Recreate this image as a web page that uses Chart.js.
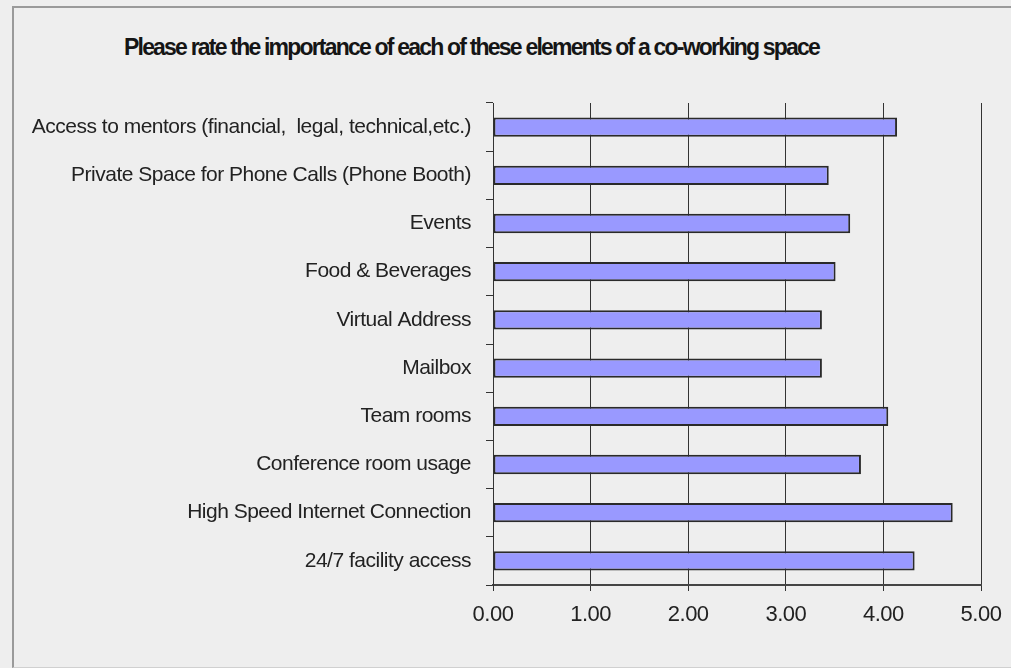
<!DOCTYPE html>
<html>
<head>
<meta charset="utf-8">
<script src="https://cdn.jsdelivr.net/npm/chart.js@4"></script>
<style>
  html, body { margin: 0; padding: 0; background: #eeeeee; }
  #wrap { position: relative; width: 1011px; height: 668px; overflow: hidden; }
  #frame {
    position: absolute; left: 12px; top: 6px; width: 1010px; height: 659px;
    border-left: 2px solid #9a9a9a; border-top: 2px solid #9a9a9a;
    border-bottom: 1px solid #d0d0d0;
  }
  #title {
    position: absolute; left: 124px; top: 34px; white-space: nowrap;
    font: bold 23px "Liberation Sans", Arial, sans-serif; letter-spacing: -1.8px;
    color: #151515;
  }
  canvas { position: absolute; left: 0; top: 0; }
</style>
</head>
<body>
<div id="wrap">
  <div id="frame"></div>
  <div id="title">Please rate the importance of each of these elements of a co-working space</div>
  <canvas id="chart" width="1011" height="668"></canvas>
</div>
<script>
'use strict';

// ===== DATA =====
const categories = [
  'Access to mentors (financial,  legal, technical,etc.)',
  'Private Space for Phone Calls (Phone Booth)',
  'Events',
  'Food & Beverages',
  'Virtual Address',
  'Mailbox',
  'Team rooms',
  'Conference room usage',
  'High Speed Internet Connection',
  '24/7 facility access'
];
const ratings = [4.14, 3.44, 3.66, 3.51, 3.37, 3.37, 4.05, 3.77, 4.71, 4.32];
const xTicks = [0, 1, 2, 3, 4, 5];

const textColor = '#222';
const lineColor = '#333';

// squeeze the axis text a bit, the original font is narrow
const narrowText = {
  id: 'narrowText',
  beforeDraw(chart) { chart.ctx.letterSpacing = '-0.5px'; }
};

new Chart(document.getElementById('chart'), {
  type: 'bar',
  data: {
    labels: categories,
    datasets: [{
      data: ratings,
      backgroundColor: '#9999ff',
      borderColor: '#2a2a2a',
      borderWidth: 2,
      borderSkipped: false,
      barPercentage: 0.4,
      categoryPercentage: 1
    }]
  },
  options: {
    indexAxis: 'y',
    responsive: false,
    animation: false,
    layout: { padding: { top: 103, right: 30, left: 0, bottom: 0 } },
    plugins: {
      legend: { display: false },
      tooltip: { enabled: false }
    },
    scales: {
      x: {
        min: 0,
        max: 5,
        afterBuildTicks: s => { s.ticks = xTicks.map(v => ({ value: v })); },
        afterFit: s => { s.height = 83; s.paddingLeft = 0; s.paddingRight = 0; },
        grid: { color: lineColor, lineWidth: 1, tickLength: 6 },
        border: { color: '#444', width: 2 },
        ticks: {
          color: textColor,
          font: { family: 'Liberation Sans, Arial, sans-serif', size: 22 },
          padding: 11,
          callback: v => Number(v).toFixed(2)
        }
      },
      y: {
        afterFit: s => { s.width = 493; },
        grid: { drawOnChartArea: false, color: lineColor, tickLength: 7, offset: true },
        border: { color: lineColor, width: 1 },
        ticks: {
          color: textColor,
          font: { family: 'Liberation Sans, Arial, sans-serif', size: 21 },
          padding: 15,
          autoSkip: false
        }
      }
    }
  },
  plugins: [narrowText]
});
</script>
</body>
</html>
